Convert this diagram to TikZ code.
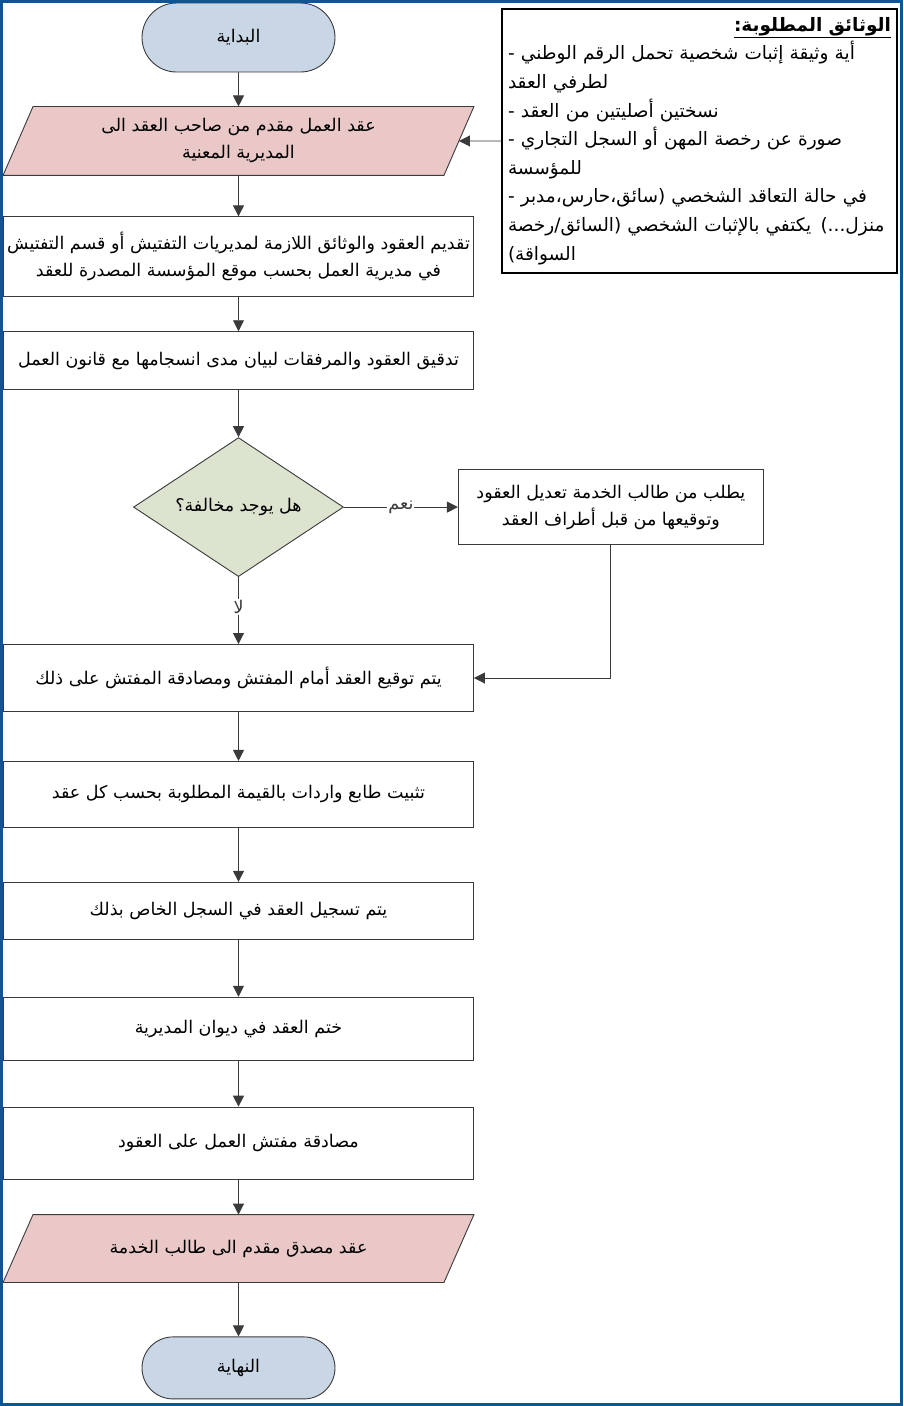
\documentclass[tikz,border=0pt]{standalone}
\usepackage{fontspec}
\usepackage{xcolor}
\usetikzlibrary{arrows.meta,positioning,shapes.geometric,shapes.misc,backgrounds,calc}
\newfontfamily\arabicfont[Script=Arabic]{DejaVu Sans}
\TeXXeTstate=1
\newcommand{\ar}[1]{\beginR #1\endR}
\definecolor{termblue}{HTML}{C9D6E6}
\definecolor{iopink}{HTML}{EAC8C8}
\definecolor{decgreen}{HTML}{DCE3CE}
\definecolor{frameblue}{HTML}{0F5594}
\definecolor{edgegray}{HTML}{3A3A3A}

\begin{document}
\begin{tikzpicture}[x=1pt, y=-1pt,
    base/.style={draw=edgegray, line width=0.9pt, align=center, inner sep=2pt,
                 font=\arabicfont\fontsize{17.5}{27}\selectfont},
    term/.style={base, rounded rectangle, fill=termblue, minimum width=197pt},
    io/.style={base, draw=none, rectangle, minimum width=440pt},
    proc/.style={base, rectangle, minimum width=470pt},
    decide/.style={base, diamond, aspect=2, inner sep=0pt, fill=decgreen,
                   minimum width=210pt, minimum height=139pt},
    answer/.style={fill=white, inner sep=1pt, font=\arabicfont\fontsize{17.5}{18}\selectfont},
    >={Triangle[length=11pt,width=11pt]}
]
\useasboundingbox (0,0) rectangle (903,1406);

% main column
\node[term, minimum height=69pt] (start) at (238.5,37.5) {\ar{البداية}};
\node[io, minimum height=68pt, below=34pt of start] (inp) {\ar{عقد العمل مقدم من صاحب العقد الى}\\\ar{المديرية المعنية}};
\node[proc, minimum height=80pt, below=41pt of inp] (submit) {\ar{تقديم العقود والوثائق اللازمة لمديريات التفتيش أو قسم التفتيش}\\\ar{في مديرية العمل بحسب موقع المؤسسة المصدرة للعقد}};
\node[proc, minimum height=58pt, below=34pt of submit] (check) {\ar{تدقيق العقود والمرفقات لبيان مدى انسجامها مع قانون العمل}};
\node[decide, below=47pt of check] (viol) {\ar{هل يوجد مخالفة؟}};
\node[proc, minimum width=305pt, minimum height=75pt, right=114pt of viol] (fix) {\ar{يطلب من طالب الخدمة تعديل العقود}\\\ar{وتوقيعها من قبل أطراف العقد}};
\node[proc, minimum height=67pt, below=67pt of viol] (sign) {\ar{يتم توقيع العقد أمام المفتش ومصادقة المفتش على ذلك}};
\node[proc, minimum height=66pt, below=49pt of sign] (stamp) {\ar{تثبيت طابع واردات بالقيمة المطلوبة بحسب كل عقد}};
\node[proc, minimum height=57pt, below=54pt of stamp] (record) {\ar{يتم تسجيل العقد في السجل الخاص بذلك}};
\node[proc, minimum height=63pt, below=57pt of record] (seal) {\ar{ختم العقد في ديوان المديرية}};
\node[proc, minimum height=72pt, below=46pt of seal] (certify) {\ar{مصادقة مفتش العمل على العقود}};
\node[io, minimum height=67pt, below=35pt of certify] (outp) {\ar{عقد مصدق مقدم الى طالب الخدمة}};
\node[term, minimum height=62pt, below=54pt of outp] (stop) {\ar{النهاية}};

% slanted input/output boxes
\begin{scope}[on background layer]
\foreach \n in {inp,outp}
  \filldraw[draw=edgegray, fill=iopink, line width=0.9pt]
    ($(\n.north west)+(15,0)$) -- ($(\n.north east)+(15,0)$) --
    ($(\n.south east)+(-15,0)$) -- ($(\n.south west)+(-15,0)$) -- cycle;
\end{scope}

% required documents
\node[base, draw=black, line width=1.1pt, align=left, text width=383pt, minimum height=264pt,
      inner sep=6pt, font=\arabicfont\fontsize{18.5}{28.6}\selectfont] (docs) at (699.5,141)
{\makebox[\linewidth][r]{\bfseries\underline{\ar{الوثائق المطلوبة:}}}\\
- \ar{أية وثيقة إثبات شخصية تحمل الرقم الوطني}\\
\ar{لطرفي العقد}\\
- \ar{نسختين أصليتين من العقد}\\
- \ar{صورة عن رخصة المهن أو السجل التجاري}\\
\ar{للمؤسسة}\\
- \ar{في حالة التعاقد الشخصي (سائق،حارس،مدبر}\\
\ar{منزل...) يكتفي  بالإثبات الشخصي (السائق/رخصة}\\
\ar{السواقة)}};

\draw[->, edgegray, line width=0.9pt] (start) -- (inp);
\draw[->, edgegray, line width=0.9pt] (docs.west) -- (inp);
\draw[->, edgegray, line width=0.9pt] (inp) -- (submit);
\draw[->, edgegray, line width=0.9pt] (submit) -- (check);
\draw[->, edgegray, line width=0.9pt] (check) -- (viol);
\draw[->, edgegray, line width=0.9pt] (viol) -- node[answer, pos=0.5] {\ar{نعم}} (fix);
\draw[->, edgegray, line width=0.9pt] (fix.south) |- (sign.east);
\draw[->, edgegray, line width=0.9pt] (viol) -- node[answer, pos=0.45] {\ar{لا}} (sign);
\draw[->, edgegray, line width=0.9pt] (sign) -- (stamp);
\draw[->, edgegray, line width=0.9pt] (stamp) -- (record);
\draw[->, edgegray, line width=0.9pt] (record) -- (seal);
\draw[->, edgegray, line width=0.9pt] (seal) -- (certify);
\draw[->, edgegray, line width=0.9pt] (certify) -- (outp);
\draw[->, edgegray, line width=0.9pt] (outp) -- (stop);

\draw[frameblue, line width=3pt] (1.5,1.5) rectangle (901.5,1404.5);
\end{tikzpicture}
\end{document}
